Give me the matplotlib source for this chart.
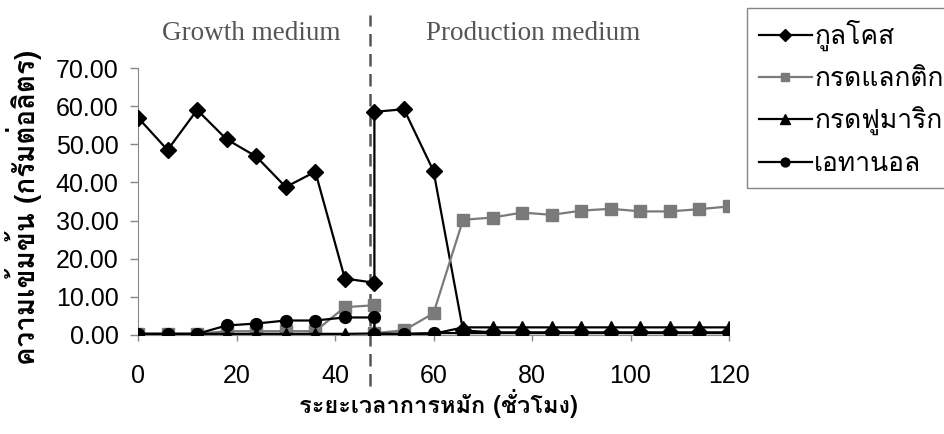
import matplotlib
matplotlib.use("Agg")
import matplotlib.pyplot as plt
from matplotlib import font_manager
from matplotlib.ft2font import FT2Font

# ---- data ----
hours = [0, 6, 12, 18, 24, 30, 36, 42, 48, 48, 54, 60, 66, 72, 78, 84, 90, 96, 102, 108, 114, 120]
glucose = [57.0, 48.5, 59.0, 51.3, 46.8, 38.8, 42.8, 14.8, 13.7, 58.5, 59.2, 43.0,
           1.2, 0.7, 0.7, 0.7, 0.7, 0.7, 0.7, 0.7, 0.7, 0.7]
lactic = [0.3, 0.3, 0.3, 1.0, 1.0, 1.0, 1.0, 7.3, 7.8, 0.5, 1.2, 5.7,
          30.2, 30.8, 32.1, 31.5, 32.6, 33.1, 32.4, 32.4, 33.0, 33.7]
fumaric = [0.3, 0.3, 0.3, 0.3, 0.3, 0.3, 0.3, 0.3, 0.4, 0.3, 0.3, 0.3,
           2.0, 2.0, 2.0, 2.0, 2.0, 2.0, 2.0, 2.0, 2.0, 2.0]
ethanol = [0.3, 0.3, 0.3, 2.5, 3.0, 3.8, 3.8, 4.6, 4.6, 0.3, 0.3, 0.5,
           0.5, 0.5, 0.5, 0.5, 0.5, 0.5, 0.5, 0.5, 0.5, 0.5]
series_names = ["กูลโคส", "กรดแลกติก", "กรดฟูมาริก", "เอทานอล"]
x_ticks = [0, 20, 40, 60, 80, 100, 120]
y_ticks = [0, 10, 20, 30, 40, 50, 60, 70]
phase_labels = ["Growth medium", "Production medium"]
phase_switch = 47.2
x_label = "ระยะเวลาการหมัก (ชั่วโมง)"
y_label = "ความเข้มข้น (กรัมต่อลิตร)"

# ---- find a font with Thai glyphs ----
thai_family = None
seen = set()
for f in font_manager.fontManager.ttflist:
    if f.fname in seen:
        continue
    seen.add(f.fname)
    try:
        cm = FT2Font(f.fname).get_charmap()
    except Exception:
        continue
    if 0x0E01 in cm and 0x0E2A in cm:
        thai_family = f.name
        break
thai_fams = ([thai_family] if thai_family else []) + ["DejaVu Sans"]

plt.rcParams["font.family"] = ["Liberation Sans", "DejaVu Sans"]

fig = plt.figure(figsize=(9.45, 4.34), dpi=100)
ax = fig.add_axes([138 / 945, 1 - 335 / 434, (729 - 138) / 945, (335 - 68) / 434])

lw = 1.6
ax.plot(hours, glucose, color="black", lw=lw, marker="D", ms=8.5, label=series_names[0], zorder=3)
ax.plot(hours, lactic, color="#7a7a7a", lw=lw, marker="s", ms=8, label=series_names[1], zorder=4)
ax.plot(hours, fumaric, color="black", lw=lw, marker="^", ms=9, label=series_names[2], zorder=5)
ax.plot(hours, ethanol, color="black", lw=lw, marker="o", ms=8.5, label=series_names[3], zorder=6)

ax.set_xlim(0, 120)
ax.set_ylim(0, 70)
ax.set_xticks(x_ticks)
ax.set_yticks(y_ticks)
ax.set_yticklabels([f"{v:.2f}" for v in y_ticks])
ax.tick_params(axis="x", direction="out", length=4, width=1, color="#888888", pad=17, labelsize=18)
ax.tick_params(axis="y", direction="out", length=6, width=1, color="#888888", pad=8, labelsize=18)
for s in ["top", "right"]:
    ax.spines[s].set_visible(False)
ax.spines["left"].set_color("#888888")
ax.spines["bottom"].set_color("#888888")
ax.patch.set_alpha(0)

# phase divider
ax.axvline(phase_switch, ymin=-0.19, ymax=1.2, color="#555555", lw=1.8,
           linestyle=(0, (5, 3)), clip_on=False, zorder=2)

fig.text(251 / 945, 1 - 33 / 434, phase_labels[0], ha="center", va="center",
         family=["Liberation Serif", "DejaVu Serif"], fontsize=19.5, color="#555555")
fig.text(533 / 945, 1 - 33 / 434, phase_labels[1], ha="center", va="center",
         family=["Liberation Serif", "DejaVu Serif"], fontsize=19.5, color="#555555")

fig.text(438 / 945, 1 - 404 / 434, x_label, ha="center", va="center",
         family=thai_fams, fontsize=17, fontweight="bold")
fig.text(24 / 945, 1 - 207 / 434, y_label, ha="center", va="center", rotation=90,
         family=thai_fams, fontsize=20, fontweight="bold")

leg = fig.legend(loc="upper left", bbox_to_anchor=(747 / 945, 1 - 8 / 434),
                 prop={"family": thai_fams, "size": 19}, frameon=True, fancybox=False,
                 edgecolor="#666666", handlelength=2.0, handletextpad=0.1,
                 labelspacing=0.6, borderpad=0.45, borderaxespad=0, markerscale=0.75)
leg.get_frame().set_linewidth(1.0)

fig.savefig("out.png", dpi=100)
